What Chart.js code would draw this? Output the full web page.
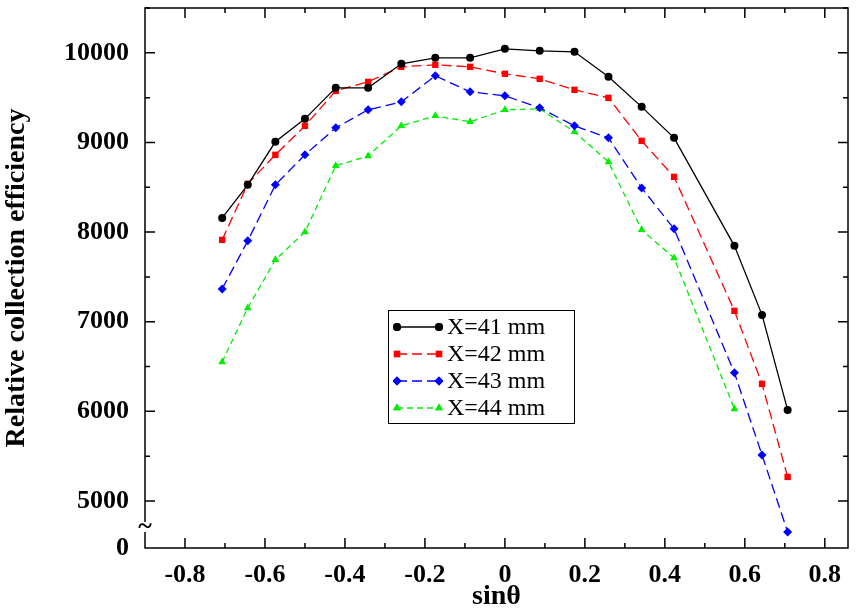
<!DOCTYPE html>
<html>
<head>
  <script src="https://cdn.jsdelivr.net/npm/chart.js"></script>
  <style>
    body { margin: 0; background: #fff; }
    #wrap { position: relative; width: 859px; height: 614px; }
    #legend { position: absolute; left: 388px; top: 310px; width: 185px; border: 1.5px solid #000; background: #fff;
      font-family: 'Liberation Serif', serif; font-size: 24px; padding: 2px 0; }
    #legend div { height: 27px; line-height: 27px; display: flex; align-items: center; }
    #legend canvas { margin: 0 4px 0 4px; }
  </style>
</head>
<body>
<div id="wrap">
  <canvas id="c" width="859" height="614"></canvas>
  <div id="legend"></div>
</div>
<script>
var sinTheta = [-0.707, -0.643, -0.574, -0.5, -0.423, -0.342, -0.259, -0.174, -0.087, 0, 0.087, 0.174, 0.259, 0.342, 0.423, 0.574, 0.643, 0.707];
var x41 = [8158, 8527, 9007, 9263, 9609, 9609, 9877, 9944, 9944, 10045, 10022, 10011, 9732, 9397, 9051, 7846, 7076, 6016];
var x42 = [7913, 8538, 8862, 9185, 9576, 9676, 9844, 9866, 9844, 9766, 9710, 9587, 9498, 9018, 8616, 7121, 6306, 5268];
var x43 = [7366, 7902, 8527, 8862, 9163, 9364, 9453, 9743, 9565, 9520, 9386, 9185, 9051, 8493, 8036, 6429, 5513, 4654];
var x44 = [6551, 7154, 7690, 8002, 8739, 8850, 9185, 9297, 9230, 9364, 9375, 9118, 8783, 8025, 7712, 6027];
var yTicks = [5000, 6000, 7000, 8000, 9000, 10000];
var yMin = 4475, yMax = 10500, xMin = -0.9, xMax = 0.858;

function pts(vals) { return vals.map(function (v, i) { return { x: sinTheta[i], y: v }; }); }

var series = [
  { label: 'X=41 mm', data: x41, color: '#000000', style: 'circle', dash: [], r: 4 },
  { label: 'X=42 mm', data: x42, color: '#ff0000', style: 'rect', dash: [10, 5], r: 4.5 },
  { label: 'X=43 mm', data: x43, color: '#0000ff', style: 'rectRot', dash: [10, 5], r: 4.5 },
  { label: 'X=44 mm', data: x44, color: '#00ee00', style: 'triangle', dash: [6, 4], r: 4.5 }
];

var font = { family: 'Liberation Serif', size: 26, weight: 'bold' };

var frame = {
  id: 'frame',
  afterDraw: function (chart) {
    var ctx = chart.ctx, a = chart.chartArea, xs = chart.scales.x, ys = chart.scales.y;
    ctx.save();
    ctx.strokeStyle = '#000'; ctx.lineWidth = 1.5;
    ctx.strokeRect(a.left, a.top, a.right - a.left, a.bottom - a.top);
    ctx.beginPath();
    for (var v = -0.8; v <= 0.81; v += 0.1) {
      var px = xs.getPixelForValue(v), major = Math.round(v * 10) % 2 === 0;
      var l = major ? 10 : 5;
      ctx.moveTo(px, a.bottom); ctx.lineTo(px, a.bottom - l);
      ctx.moveTo(px, a.top); ctx.lineTo(px, a.top + l);
    }
    for (var y = 5000; y <= 10500; y += 500) {
      var py = ys.getPixelForValue(y), l2 = (y % 1000 === 0) ? 10 : 5;
      ctx.moveTo(a.left, py); ctx.lineTo(a.left + l2, py);
      ctx.moveTo(a.right, py); ctx.lineTo(a.right - l2, py);
    }
    ctx.stroke();
    ctx.fillStyle = '#fff';
    ctx.fillRect(a.left - 8, 522, 16, 10);
    ctx.fillStyle = '#000';
    ctx.font = 'bold 26px "Liberation Serif"';
    ctx.textAlign = 'center'; ctx.textBaseline = 'middle';
    ctx.fillText('~', a.left, 527);
    ctx.restore();
  }
};

new Chart(document.getElementById('c'), {
  type: 'line',
  data: {
    datasets: series.map(function (s) {
      return {
        label: s.label, data: pts(s.data), borderColor: s.color, backgroundColor: s.color,
        borderWidth: 1.3, borderDash: s.dash, pointStyle: s.style, pointRadius: s.r,
        pointBorderWidth: 0, tension: 0
      };
    })
  },
  options: {
    responsive: false, animation: false,
    layout: { padding: { top: 8, right: 11 } },
    plugins: { legend: { display: false }, tooltip: { enabled: false } },
    scales: {
      x: {
        type: 'linear', min: xMin, max: xMax,
        afterBuildTicks: function (s) { s.ticks = [-0.8, -0.6, -0.4, -0.2, 0, 0.2, 0.4, 0.6, 0.8].map(function (v) { return { value: v }; }); },
        afterFit: function (s) { s.height = 66; s.paddingLeft = 0; s.paddingRight = 0; },
        grid: { display: false }, border: { display: false },
        ticks: { color: '#000', font: font, padding: 4, maxRotation: 0,
          callback: function (v) { return v === 0 ? '0' : v.toFixed(1); } },
        title: { display: true, text: 'sinθ', color: '#000', font: { family: 'Liberation Serif', size: 28, weight: 'bold' }, padding: 0 }
      },
      y: {
        type: 'linear', min: yMin, max: yMax,
        afterBuildTicks: function (s) { s.ticks = [yMin].concat(yTicks).map(function (v) { return { value: v }; }); },
        afterFit: function (s) { s.width = 145; s.paddingTop = 0; s.paddingBottom = 0; },
        grid: { display: false }, border: { display: false },
        ticks: { color: '#000', font: font, padding: 8,
          callback: function (v) { return v === yMin ? '0' : String(v); } },
        title: { display: true, text: 'Relative collection efficiency', color: '#000', font: { family: 'Liberation Serif', size: 28, weight: 'bold' }, padding: 0 }
      }
    }
  },
  plugins: [frame]
});

var leg = document.getElementById('legend');
series.forEach(function (s) {
  var row = document.createElement('div');
  var cv = document.createElement('canvas'); cv.width = 50; cv.height = 14;
  var g = cv.getContext('2d');
  g.strokeStyle = s.color; g.fillStyle = s.color; g.lineWidth = 1.3; g.setLineDash(s.dash);
  g.beginPath(); g.moveTo(4, 7); g.lineTo(46, 7); g.stroke();
  [4, 46].forEach(function (x) {
    Chart.helpers.drawPoint(g, { pointStyle: s.style, radius: s.r, borderWidth: 0 }, x, 7);
    g.fill();
  });
  row.appendChild(cv);
  row.appendChild(document.createTextNode(s.label));
  leg.appendChild(row);
});
</script>
</body>
</html>
